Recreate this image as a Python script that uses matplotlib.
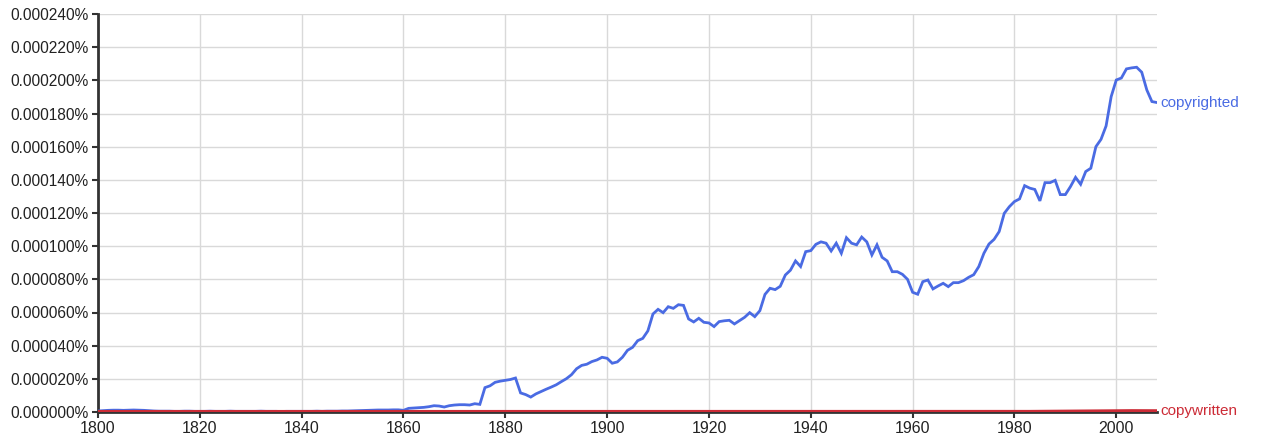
import matplotlib
matplotlib.use("Agg")
import matplotlib.pyplot as plt
from matplotlib.ticker import FuncFormatter

years = list(range(1800, 2009))

copyrighted = [
    # 1800-1809
    0.6, 0.8, 1.0, 1.1, 1.1, 1.0, 1.1, 1.2, 1.1, 1.0,
    # 1810-1819
    0.8, 0.6, 0.5, 0.5, 0.5, 0.4, 0.4, 0.5, 0.5, 0.4,
    # 1820-1829
    0.4, 0.4, 0.5, 0.4, 0.4, 0.4, 0.5, 0.4, 0.4, 0.4,
    # 1830-1839
    0.4, 0.4, 0.5, 0.4, 0.4, 0.4, 0.3, 0.4, 0.4, 0.4,
    # 1840-1849
    0.4, 0.4, 0.4, 0.5, 0.4, 0.5, 0.5, 0.5, 0.6, 0.6,
    # 1850-1859
    0.7, 0.8, 0.9, 1.0, 1.1, 1.2, 1.2, 1.2, 1.3, 1.3,
    # 1860-1869
    1.0, 2.2, 2.4, 2.6, 2.8, 3.2, 3.8, 3.6, 3.0, 3.8,
    # 1870-1879
    4.2, 4.4, 4.4, 4.2, 5.0, 4.6, 14.7, 15.8, 17.9, 18.6,
    # 1880-1889
    19.1, 19.6, 20.5, 11.5, 10.5, 9.0, 10.9, 12.3, 13.7, 15.0,
    # 1890-1899
    16.4, 18.3, 20.1, 22.5, 26.1, 28.1, 28.8, 30.4, 31.4, 33.0,
    # 1900-1909
    32.4, 29.4, 30.2, 33.0, 37.2, 39.0, 43.0, 44.4, 48.9, 59.1,
    # 1910-1919
    61.9, 59.9, 63.5, 62.5, 64.7, 64.3, 56.1, 54.3, 56.5, 54.1,
    # 1920-1929
    53.7, 51.5, 54.5, 55.0, 55.3, 53.1, 55.1, 57.1, 59.9, 57.5,
    # 1930-1939
    61.1, 70.9, 74.6, 73.8, 75.8, 82.6, 85.5, 91.1, 87.7, 96.7,
    # 1940-1949
    97.3, 101.1, 102.6, 101.8, 97.1, 101.8, 95.7, 105.1, 101.8, 100.8,
    # 1950-1959
    105.5, 102.6, 94.7, 100.8, 93.3, 91.1, 84.6, 84.6, 83.0, 80.0,
    # 1960-1969
    72.2, 71.0, 78.6, 79.6, 74.2, 76.0, 77.6, 75.6, 78.0, 78.0,
    # 1970-1979
    79.2, 81.2, 82.8, 87.7, 95.7, 101.3, 104.1, 108.8, 119.8, 123.8,
    # 1980-1989
    126.9, 128.5, 136.5, 135.0, 134.2, 127.3, 138.3, 138.3, 139.7, 131.1,
    # 1990-1999
    131.1, 135.9, 141.5, 137.3, 145.0, 147.0, 160.0, 164.4, 172.5, 190.2,
    # 2000-2008
    200.2, 201.4, 206.9, 207.5, 207.9, 204.9, 194.2, 187.2, 186.6,
]

copywritten = [0.05] * 180 + [
    # 1980-1989
    0.08, 0.08, 0.1, 0.1, 0.12, 0.12, 0.14, 0.15, 0.16, 0.18,
    # 1990-1999
    0.2, 0.22, 0.24, 0.26, 0.28, 0.3, 0.32, 0.35, 0.38, 0.4,
    # 2000-2008
    0.45, 0.5, 0.55, 0.55, 0.55, 0.5, 0.5, 0.5, 0.5,
]

x_ticks = list(range(1800, 2001, 20))
y_ticks = list(range(0, 241, 20))

BLUE = "#4A6BE3"
RED = "#CC2B36"
FONT = "Liberation Sans"

fig = plt.figure(figsize=(12.62, 4.45), dpi=100)
ax = fig.add_axes([98 / 1262, 1 - 412 / 445, (1157 - 98) / 1262, (412 - 14) / 445])

ax.plot(years, copyrighted, color=BLUE, lw=2.0, solid_joinstyle="miter", zorder=3)
ax.plot(years, copywritten, color=RED, lw=2.8, zorder=4)

ax.set_xlim(1800, 2008)
ax.set_ylim(0, 240)
ax.set_xticks(x_ticks)
ax.set_yticks(y_ticks)
ax.yaxis.set_major_formatter(FuncFormatter(lambda v, p: f"{v / 1e6:.6f}%"))

ax.grid(True, color="#D9D9D9", lw=1.0)
ax.set_axisbelow(True)
for s in ["top", "right"]:
    ax.spines[s].set_visible(False)
for s in ["left", "bottom"]:
    ax.spines[s].set_color("#333333")
    ax.spines[s].set_linewidth(2.0)
ax.tick_params(axis="both", colors="#333333", length=4.5, width=1.5,
               labelcolor="#222222", pad=2)
for lab in ax.get_yticklabels():
    lab.set_fontfamily(FONT)
    lab.set_fontsize(11.2)
for lab in ax.get_xticklabels():
    lab.set_fontfamily(FONT)
    lab.set_fontsize(11.5)

ax.annotate("copyrighted", xy=(2008, copyrighted[-1]), xytext=(2.5, 0),
            textcoords="offset points", color=BLUE, fontsize=11, family=FONT,
            va="center", ha="left", annotation_clip=False)
ax.annotate("copywritten", xy=(2008, 0.5), xytext=(2.5, 0),
            textcoords="offset points", color=RED, fontsize=11, family=FONT,
            va="center", ha="left", annotation_clip=False)

fig.savefig("out.png", dpi=100)
